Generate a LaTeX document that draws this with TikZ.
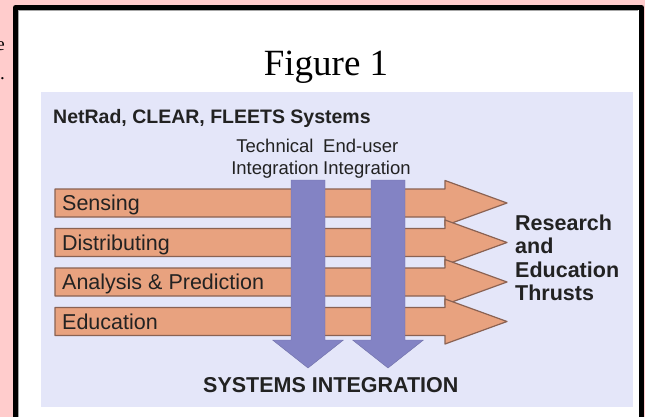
\documentclass[tikz,border=0pt]{standalone}
\usepackage{fontspec}
\setmainfont{Liberation Serif}
\setsansfont{Liberation Sans}
\usepackage{tikz}
\definecolor{pagepink}{HTML}{FFCCCC}
\definecolor{panelblue}{HTML}{E4E6F9}
\definecolor{thrustfill}{HTML}{E8A27F}
\definecolor{thrustline}{HTML}{8A6253}
\definecolor{integfill}{HTML}{8383C4}
\definecolor{labelgray}{HTML}{222222}
\tikzset{
  thrust/.style={fill=thrustfill,draw=thrustline,line width=1.2pt},
  integ/.style={fill=integfill,draw=integfill!85!black,line width=0.4pt},
  barlabel/.style={anchor=base west,inner sep=0pt,text=labelgray,font=\sffamily\fontsize{21.5}{23.5}\selectfont},
  headlabel/.style={inner sep=0pt,text=labelgray,font=\sffamily\fontsize{18.5}{21.5}\selectfont},
  boldlabel/.style={inner sep=0pt,text=labelgray,font=\sffamily\bfseries\fontsize{21.5}{23.5}\selectfont}
}
\begin{document}
\begin{tikzpicture}[line cap=round,line join=round,x=1pt,y=-1pt]
\useasboundingbox (0,0) rectangle (645,417);
\clip (0,0) rectangle (645,417);
% page and frame
\fill [pagepink] (0,0) rectangle (645,417);
\node (cute) [anchor=base east,inner sep=0pt,font=\fontsize{19}{21}\selectfont] at (5,51) {e};
\node (cutdot) [anchor=base east,inner sep=0pt,font=\fontsize{19}{21}\selectfont] at (5,80) {.};
\fill [white] (18,10) rectangle (639,430);
\draw [line width=5pt,line cap=butt] (15.5,7.5) rectangle (641.5,440);
\draw [gray!70,line width=0.8pt,line cap=butt] (18.6,430) -- (18.6,10.6) -- (638.4,10.6);
\node (fig) [anchor=base,inner sep=0pt,font=\fontsize{37}{40}\selectfont] at (326,76) {Figure 1};
% panel
\fill [panelblue] (41,92) rectangle (633,407);
\node (systems) [boldlabel,anchor=base west,font=\sffamily\bfseries\fontsize{19.5}{22}\selectfont] at (53,124) {NetRad, CLEAR, FLEETS Systems};
\node (technical) [headlabel,anchor=base,align=center] at (275,174) {Technical\\Integration};
\node (enduser) [headlabel,anchor=base west,align=left] at (323,174) {End-user\\Integration};
% thrust arrows
\foreach \yc in {203,242.5,282,321.5}
  \draw [thrust] (55,\yc-14) -- (445,\yc-14) -- (445,\yc-22.5) -- (507,\yc)
     -- (445,\yc+22.5) -- (445,\yc+14) -- (55,\yc+14) -- cycle;
\node (sensing) [barlabel] at (62,210.5) {Sensing};
\node (distributing) [barlabel] at (62,250) {Distributing};
\node (analysis) [barlabel] at (62,289.5) {Analysis \& Prediction};
\node (education) [barlabel] at (62,329) {Education};
% integration arrows
\foreach \xc in {308,388}
  \draw [integ] (\xc-17,180) -- (\xc+17,180) -- (\xc+17,340) -- (\xc+35.5,340)
     -- (\xc,368) -- (\xc-35.5,340) -- (\xc-17,340) -- cycle;
\node (thrusts) [boldlabel,anchor=base west,align=left] at (515,300.5) {Research\\and\\Education\\Thrusts};
\node (sysint) [boldlabel,anchor=base west] at (203,392) {SYSTEMS INTEGRATION};
\end{tikzpicture}
\end{document}
